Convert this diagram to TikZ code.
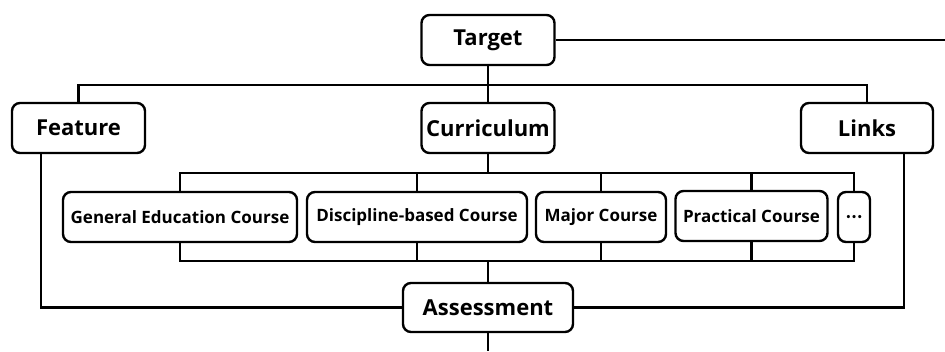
\documentclass[tikz,border=0pt]{standalone}
\usepackage{fontspec}
\setmainfont{Open Sans}
\newfontfamily\cjkfont{Noto Sans CJK SC}
\begin{document}
\begin{tikzpicture}[x=1pt,y=-1pt,
  box/.style={draw, line width=2.4pt, rounded corners=8pt, inner sep=0pt, font=\bfseries\fontsize{22}{24}\selectfont, minimum height=50pt},
  cbox/.style={box, font=\bfseries\fontsize{17}{20}\selectfont},
  conn/.style={line width=2.4pt}]
\useasboundingbox (0,0) rectangle (945,351);
\node[box, minimum width=133pt] (target) at (488,40) {Target};
\node[box, minimum width=133pt] (feature) at (78.5,128) {Feature};
\node[box, minimum width=133pt] (curr) at (488,128) {Curriculum};
\node[box, minimum width=132pt] (links) at (867,128) {Links};
\node[cbox, minimum width=234pt] (gec) at (180,217) {General Education Course};
\node[cbox, minimum width=220pt] (disc) at (417,217) {Discipline-based Course};
\node[cbox, minimum width=130pt] (major) at (601,217) {Major Course};
\node[cbox, minimum width=152pt] (prac) at (751.5,216) {Practical Course};
\node[cbox, minimum width=32pt] (dots) at (854,217) {\cjkfont\fontsize{15}{18}\selectfont …};
\node[box, minimum width=170pt, minimum height=49pt] (assess) at (488,307.5) {Assessment};
\coordinate (tend) at (945,40);
\coordinate (tb) at (488,85);
\coordinate (cb) at (488,173);
\coordinate (ab) at (488,261);
\coordinate (aend) at (488,351);
\draw[conn] (target.east) -- (tend);
\draw[conn] (target.south) -- (curr.north);
\draw[conn] (feature.north) |- (tb) -| (links.north);
\draw[conn] (curr.south) -- (cb);
\draw[conn] (gec.north) |- (cb) -| (dots.north);
\draw[conn] (disc.north) -- (disc.north |- cb);
\draw[conn] (major.north) -- (major.north |- cb);
\draw[conn] (prac.north) -- (prac.north |- cb);
\draw[conn] (gec.south) |- (ab) -| (dots.south);
\draw[conn] (disc.south) -- (disc.south |- ab);
\draw[conn] (major.south) -- (major.south |- ab);
\draw[conn] (prac.south) -- (prac.south |- ab);
\draw[conn] (ab) -- (assess.north);
\draw[conn] ([xshift=-37.5pt]feature.south) |- (assess.west);
\draw[conn] ([xshift=37pt]links.south) |- (assess.east);
\draw[conn] (assess.south) -- (aend);
\end{tikzpicture}
\end{document}
